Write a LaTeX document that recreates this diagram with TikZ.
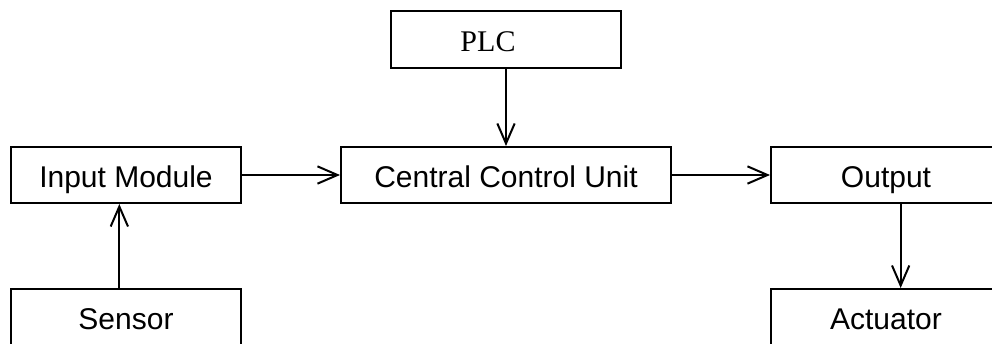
\documentclass[tikz,border=0pt]{standalone}
\usepackage{fontspec}
\setmainfont{Liberation Sans}
\newfontfamily\plcfont{Liberation Serif}
\usetikzlibrary{arrows.meta,positioning}

\begin{document}
\begin{tikzpicture}[
        x=0.75pt, y=-0.75pt,
        block/.style={rectangle, draw, line width=1.5pt, minimum width=172.5pt, minimum height=42pt, inner sep=0pt, text height=21pt, text depth=3pt, font=\fontsize{22.5}{26}\selectfont},
        arrow/.style={-{Straight Barb[length=15pt,width=13pt,line width=1.5pt]}, line width=1.5pt}
    ]
        \useasboundingbox (0,0) rectangle (992,343);

        % Top
        \node[block, minimum height=42.75pt, font=\fontsize{22.5}{26}\selectfont\plcfont] (plc) at (506,39.5) {PLC\hspace*{27pt}};

        % Middle row
        \node[block] (input) at (126,175) {Input Module};
        \node[block, minimum width=247.5pt] (ccu) at (506,175) {Central Control Unit};
        \node[block] (output) at (886,175) {Output};

        % Bottom row
        \node[block] (sensor) at (126,317) {Sensor};
        \node[block] (actuator) at (886,317) {Actuator};

        % Connections
        \draw[arrow] (plc) -- (ccu);
        \draw[arrow] (input) -- (ccu);
        \draw[arrow] (ccu) -- (output);
        \draw[arrow] ([xshift=-5pt]sensor.north) -- ([xshift=-5pt]input.south);
        \draw[arrow] ([xshift=11pt]output.south) -- ([xshift=11pt]actuator.north);

    \end{tikzpicture}
\end{document}
